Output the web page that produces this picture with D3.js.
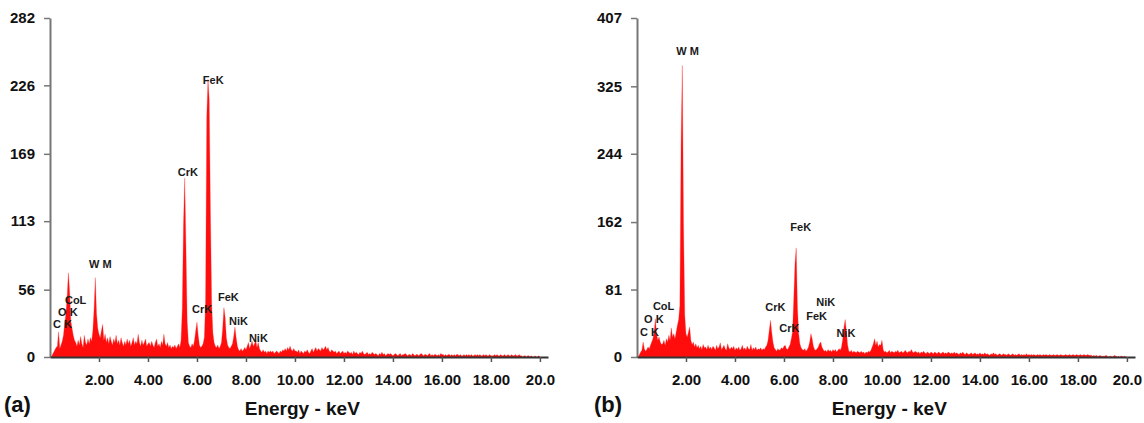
<!DOCTYPE html>
<html>
<head>
<meta charset="utf-8">
<script src="https://cdn.jsdelivr.net/npm/d3@7"></script>
<style>
  body { margin: 0; background: #fff; }
  svg { display: block; font-family: Arial, "Liberation Sans", sans-serif; }
</style>
</head>
<body>
<svg id="chart" width="1144" height="423"></svg>
<script>
// EDS spectra, counts per channel; channel i sits at (i + 1) * channelKeV
const channelKeV = 0.05;

// (a) one row per keV
const countsA = [
  0, 2, 4, 6, 8, 9, 21, 7, 10, 13, 18, 28, 36, 50, 70, 55, 30, 24, 18, 14,
  12, 9, 14, 10, 17, 11, 8, 18, 12, 10, 15, 11, 16, 13, 22, 40, 66, 36, 24, 19,
  16, 22, 27, 14, 19, 12, 16, 11, 17, 13, 10, 15, 12, 18, 11, 14, 10, 16, 12, 9,
  13, 10, 15, 11, 14, 9, 12, 16, 10, 13, 11, 19, 12, 9, 14, 10, 12, 15, 9, 11,
  12, 9, 13, 10, 8, 12, 15, 9, 11, 8, 13, 10, 19, 11, 9, 12, 8, 10, 7, 9,
  8, 10, 7, 9, 11, 8, 14, 40, 110, 149, 92, 30, 12, 9, 8, 11, 9, 14, 22, 29,
  18, 10, 8, 9, 11, 16, 45, 200, 231, 214, 120, 45, 20, 12, 9, 8, 10, 7, 9, 12,
  24, 41, 33, 16, 10, 8, 7, 9, 11, 17, 25, 16, 9, 6, 5, 7, 5, 6, 8, 6,
  9, 12, 7, 10, 13, 9, 11, 14, 8, 12, 7, 5, 4, 6, 4, 5, 3, 5, 4, 5,
  4, 5, 3, 4, 5, 4, 3, 5, 4, 6, 5, 7, 5, 8, 6, 9, 6, 5, 7, 5,
  5, 4, 6, 3, 5, 4, 3, 5, 4, 6, 4, 3, 5, 7, 4, 6, 8, 5, 7, 6,
  5, 8, 6, 7, 9, 6, 8, 5, 4, 6, 5, 4, 5, 3, 4, 5, 3, 4, 5, 3,
  4, 3, 5, 4, 3, 4, 2, 5, 3, 4, 3, 2, 4, 3, 5, 3, 2, 3, 4, 2,
  3, 2, 4, 3, 2, 3, 2, 1, 3, 2, 4, 2, 3, 1, 2, 3, 2, 3, 2, 1,
  2, 3, 2, 1, 2, 3, 1, 2, 2, 3, 2, 1, 2, 2, 1, 3, 2, 1, 2, 2,
  1, 2, 3, 2, 1, 2, 2, 1, 2, 3, 1, 2, 1, 2, 2, 1, 2, 1, 3, 2,
  2, 1, 2, 1, 2, 2, 1, 2, 1, 2, 1, 2, 2, 1, 2, 1, 1, 2, 1, 2,
  1, 2, 1, 2, 1, 1, 2, 1, 2, 1, 2, 1, 1, 2, 1, 2, 1, 1, 2, 1,
  1, 1, 2, 1, 2, 1, 1, 2, 1, 1, 2, 1, 1, 2, 1, 1, 2, 1, 1, 2,
  1, 1, 2, 1, 1, 0, 1, 1, 0, 1, 1, 0, 1, 0, 0, 1, 0, 0, 1, 0
];

// (b)
const countsB = [
  0, 3, 6, 8, 18, 10, 7, 9, 12, 10, 14, 18, 22, 30, 46, 28, 20, 24, 18, 15,
  16, 20, 14, 22, 18, 26, 20, 35, 24, 28, 22, 30, 38, 45, 62, 258, 350, 160, 50, 28,
  24, 30, 36, 20, 15, 18, 12, 16, 11, 14, 10, 13, 9, 15, 11, 12, 9, 14, 10, 12,
  9, 13, 11, 8, 14, 10, 12, 17, 9, 11, 14, 10, 8, 16, 11, 9, 12, 10, 13, 8,
  11, 9, 12, 8, 10, 14, 9, 11, 8, 13, 10, 9, 15, 8, 11, 9, 12, 8, 10, 9,
  11, 8, 10, 9, 12, 14, 20, 32, 44, 30, 18, 11, 9, 7, 10, 8, 9, 11, 10, 13,
  14, 10, 9, 12, 15, 22, 30, 70, 112, 131, 60, 28, 16, 11, 9, 8, 10, 7, 9, 12,
  18, 28, 22, 13, 9, 8, 10, 12, 16, 18, 12, 9, 7, 8, 6, 9, 7, 8, 6, 9,
  7, 9, 6, 8, 10, 8, 12, 22, 36, 45, 30, 14, 7, 6, 8, 5, 7, 6, 5, 7,
  6, 5, 7, 5, 6, 4, 6, 5, 7, 6, 8, 12, 16, 22, 14, 19, 12, 15, 14, 20,
  9, 6, 7, 5, 6, 8, 5, 7, 6, 5, 7, 6, 8, 5, 6, 7, 5, 6, 8, 6,
  5, 7, 6, 9, 6, 5, 7, 6, 5, 6, 4, 6, 5, 7, 5, 4, 6, 5, 4, 6,
  5, 4, 6, 5, 4, 6, 5, 4, 5, 6, 4, 5, 4, 6, 5, 4, 5, 4, 6, 4,
  5, 4, 3, 5, 4, 6, 4, 3, 5, 4, 3, 4, 5, 3, 4, 5, 3, 4, 3, 5,
  3, 4, 3, 5, 3, 4, 3, 2, 4, 3, 5, 3, 4, 2, 3, 4, 3, 2, 4, 3,
  3, 2, 4, 3, 2, 3, 4, 2, 3, 2, 3, 4, 2, 3, 2, 3, 2, 4, 2, 3,
  2, 3, 2, 3, 2, 2, 3, 2, 3, 2, 2, 3, 2, 3, 2, 2, 3, 2, 2, 3,
  2, 2, 3, 2, 2, 3, 2, 2, 2, 3, 2, 2, 3, 2, 2, 3, 2, 2, 3, 2,
  2, 3, 2, 2, 3, 2, 2, 3, 2, 2, 2, 1, 2, 1, 2, 1, 1, 2, 1, 1,
  1, 1, 2, 1, 0, 1, 1, 0, 1, 2, 1, 0, 1, 0, 1, 1, 0, 1, 0, 0
];

const yMaxA = 282;
const yMaxB = 407;
const yTicksA = [0, 56, 113, 169, 226, 282];
const yTicksB = [0, 81, 162, 244, 325, 407];
const xTicks = [2, 4, 6, 8, 10, 12, 14, 16, 18, 20];
const xTickLabels = ['2.00', '4.00', '6.00', '8.00', '10.00', '12.00', '14.00', '16.00', '18.00', '20.0'];

// peak labels: left edge in keV, middle in counts
const peakNamesA = ['C K', 'O K', 'CoL', 'W M', 'CrK', 'FeK', 'CrK', 'FeK', 'NiK', 'NiK'];
const peakKeVA   = [0.12, 0.33, 0.61, 1.59, 5.22, 6.24, 5.80, 6.86, 7.31, 8.12];
const peakCntA   = [27, 37, 47, 77, 154, 230, 40, 50, 30, 16];

const peakNamesB = ['C K', 'O K', 'CoL', 'W M', 'CrK', 'FeK', 'CrK', 'NiK', 'FeK', 'NiK'];
const peakKeVB   = [0.12, 0.29, 0.65, 1.60, 5.24, 6.26, 5.81, 7.32, 6.91, 8.14];
const peakCntB   = [30, 46, 61, 367, 60, 156, 35, 66, 49, 29];

const svg = d3.select('#chart');

function drawPanel(opts) {
  const g = svg.append('g');

  const x = d3.scaleLinear()
    .domain([0, 20.33])
    .range([opts.left, opts.right]);
  const y = d3.scaleLinear()
    .domain([0, opts.yMax])
    .range([357, 18]);

  const pts = [[0, 0]].concat(opts.counts.map((c, i) => [(i + 1) * channelKeV, c]));

  const area = d3.area()
    .x(d => x(d[0]))
    .y0(y(0))
    .y1(d => y(d[1]));

  g.append('path')
    .datum(pts)
    .attr('d', area)
    .attr('fill', '#ff0d0d')
    .attr('stroke', '#ff3030')
    .attr('stroke-width', 0.3);

  // y axis
  const ya = g.append('g')
    .attr('transform', `translate(${opts.left},0)`)
    .call(d3.axisLeft(y)
      .tickValues(opts.yTicks)
      .tickSize(6)
      .tickSizeOuter(0)
      .tickPadding(9));
  ya.select('.domain').attr('stroke', '#777').attr('stroke-width', 2);
  ya.selectAll('.tick line').attr('stroke', '#777').attr('stroke-width', 1.5);
  ya.selectAll('.tick text')
    .attr('fill', '#111')
    .style('font-size', '15px')
    .style('font-weight', 'bold');

  // x axis
  const xa = g.append('g')
    .attr('transform', `translate(0,${y(0)})`)
    .call(d3.axisBottom(x)
      .tickValues(xTicks)
      .tickFormat((d, i) => xTickLabels[i])
      .tickSize(5)
      .tickSizeOuter(0)
      .tickPadding(12));
  xa.select('.domain').attr('stroke', '#333').attr('stroke-width', 2);
  xa.selectAll('.tick line').attr('stroke', '#555').attr('stroke-width', 1.5);
  xa.selectAll('.tick text')
    .attr('fill', '#111')
    .style('font-size', '15px')
    .style('font-weight', 'bold');

  // peak annotations
  g.selectAll('text.peak')
    .data(opts.names)
    .join('text')
    .attr('class', 'peak')
    .attr('x', (d, i) => x(opts.keV[i]))
    .attr('y', (d, i) => y(opts.cnt[i]))
    .attr('dy', '0.35em')
    .attr('fill', '#1a1a1a')
    .style('font-size', '11px')
    .style('font-weight', 'bold')
    .text(d => d);

  g.append('text')
    .attr('x', x(10.3))
    .attr('y', 415)
    .attr('text-anchor', 'middle')
    .attr('fill', '#111')
    .style('font-size', '19px')
    .style('font-weight', 'bold')
    .text('Energy - keV');

  g.append('text')
    .attr('x', opts.tagX)
    .attr('y', 412)
    .attr('fill', '#111')
    .style('font-size', '22px')
    .style('font-weight', 'bold')
    .text(opts.tag);
}

drawPanel({
  counts: countsA, yMax: yMaxA, yTicks: yTicksA,
  names: peakNamesA, keV: peakKeVA, cnt: peakCntA,
  left: 50, right: 548, tag: '(a)', tagX: 4
});

drawPanel({
  counts: countsB, yMax: yMaxB, yTicks: yTicksB,
  names: peakNamesB, keV: peakKeVB, cnt: peakCntB,
  left: 637, right: 1135, tag: '(b)', tagX: 594
});
</script>
</body>
</html>
